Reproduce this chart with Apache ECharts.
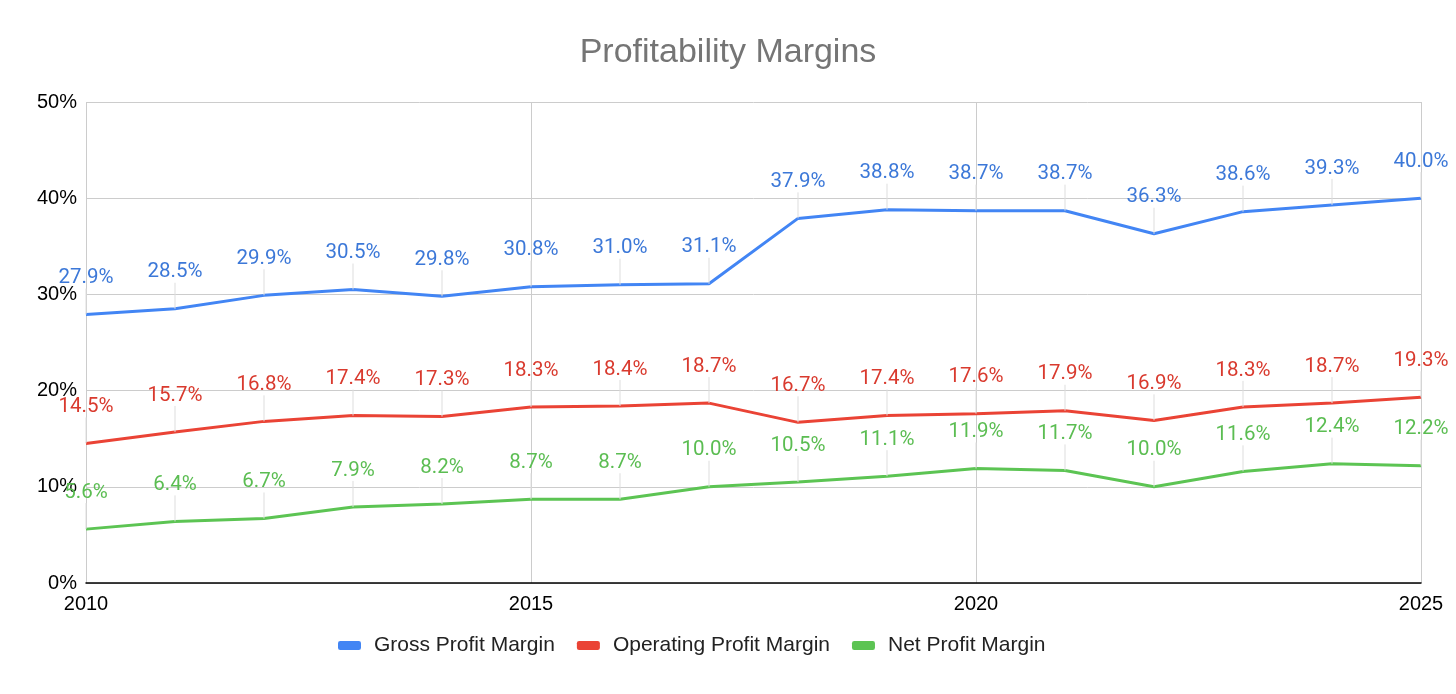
<!DOCTYPE html>
<html>
<head>
<meta charset="utf-8">
<script src="https://cdn.jsdelivr.net/npm/echarts@6/dist/echarts.min.js"></script>
<style>
    html, body { margin: 0; padding: 0; background: #fff; }
    #chart { width: 1456px; height: 694px; }
</style>
</head>
<body>
<div id="chart"></div>
<script>
    var years = [2010, 2011, 2012, 2013, 2014, 2015, 2016, 2017, 2018, 2019, 2020, 2021, 2022, 2023, 2024, 2025];
    var grossMargin = [27.9, 28.5, 29.9, 30.5, 29.8, 30.8, 31.0, 31.1, 37.9, 38.8, 38.7, 38.7, 36.3, 38.6, 39.3, 40.0];
    var operatingMargin = [14.5, 15.7, 16.8, 17.4, 17.3, 18.3, 18.4, 18.7, 16.7, 17.4, 17.6, 17.9, 16.9, 18.3, 18.7, 19.3];
    var netMargin = [5.6, 6.4, 6.7, 7.9, 8.2, 8.7, 8.7, 10.0, 10.5, 11.1, 11.9, 11.7, 10.0, 11.6, 12.4, 12.2];
    var seriesNames = ['Gross Profit Margin', 'Operating Profit Margin', 'Net Profit Margin'];
    var colors = ['#4285f4', '#ea4335', '#5cc453'];
    var labelColors = ['#3c78d8', '#d93a2e', '#5bbd52'];

    // pair each value with its year for the value x axis
    function toPoints(values) {
        return values.map(function (v, i) { return [years[i], v]; });
    }

    function makeSeries(idx, values) {
        return {
            name: seriesNames[idx],
            type: 'line',
            data: toPoints(values),
            symbol: 'circle',
            symbolSize: 0.1,
            showSymbol: true,
            lineStyle: { width: 3, color: colors[idx] },
            itemStyle: { color: colors[idx] },
            label: {
                show: true,
                position: 'top',
                distance: 4,
                color: labelColors[idx],
                fontFamily: 'Roboto',
                fontSize: 20.5,
                formatter: function (p) { return p.value[1].toFixed(1) + '%'; }
            },
            labelLayout: { dy: -22 },
            labelLine: {
                show: true,
                lineStyle: { color: '#dddddd', width: 1 }
            },
            emphasis: { disabled: true }
        };
    }

    var chart = echarts.init(document.getElementById('chart'));
    chart.setOption({
        animation: false,
        color: colors,
        title: {
            text: 'Profitability Margins',
            left: 'center',
            top: 31,
            textStyle: {
                fontFamily: 'Liberation Sans',
                fontSize: 34,
                fontWeight: 'normal',
                color: '#757575'
            }
        },
        legend: {
            bottom: 33,
            left: 333,
            itemWidth: 23,
            itemHeight: 9,
            itemGap: 22,
            icon: 'roundRect',
            textStyle: {
                fontFamily: 'Liberation Sans',
                fontSize: 21,
                color: '#222',
                padding: [0, 0, 0, 8]
            },
            data: seriesNames
        },
        grid: {
            left: 86,
            right: 35,
            top: 102,
            bottom: 111
        },
        xAxis: {
            type: 'value',
            min: 2010,
            max: 2025,
            interval: 5,
            axisLine: { lineStyle: { color: '#000', width: 1.5 } },
            axisTick: { show: false },
            axisLabel: {
                fontFamily: 'Liberation Sans',
                fontSize: 20,
                color: '#000',
                margin: 11,
                formatter: function (v) { return String(v); }
            },
            splitLine: { show: true, lineStyle: { color: '#cccccc' } }
        },
        yAxis: {
            type: 'value',
            min: 0,
            max: 50,
            interval: 10,
            axisLine: { show: false },
            axisTick: { show: false },
            axisLabel: {
                fontFamily: 'Liberation Sans',
                fontSize: 20,
                color: '#000',
                margin: 9,
                formatter: '{value}%'
            },
            splitLine: { lineStyle: { color: '#cccccc' } }
        },
        series: [
            makeSeries(0, grossMargin),
            makeSeries(1, operatingMargin),
            makeSeries(2, netMargin)
        ]
    });
</script>
</body>
</html>
